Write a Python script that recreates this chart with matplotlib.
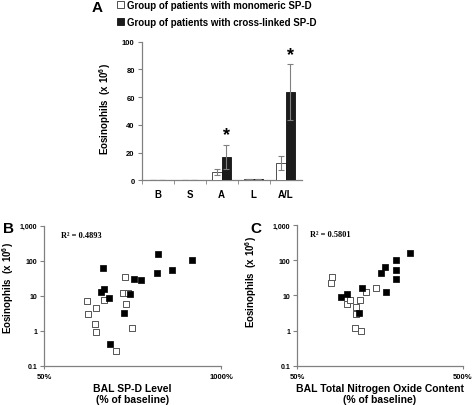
import matplotlib
matplotlib.use('Agg')
import matplotlib.pyplot as plt
from matplotlib.patches import Rectangle
from matplotlib.ticker import FixedLocator, NullLocator

plt.rcParams['font.family'] = ['Liberation Sans', 'DejaVu Sans']
plt.rcParams['font.weight'] = 'bold'
plt.rcParams['mathtext.default'] = 'regular'

# panel A data
categories = ['B', 'S', 'A', 'L', 'A/L']
mono_mean = [0.5, 0.5, 6.0, 1.2, 12.6]
mono_err = [0, 0, 2.0, 0, 5.0]
cross_mean = [0.5, 0.4, 16.8, 0.8, 63.6]
cross_err = [0, 0, 8.7, 0, 20.0]
star_cats = [2, 4]
star_y = [33, 91]

# panel B data (BAL SP-D level %, eosinophils x10^6)
b_cross_x = [136, 130, 137, 150, 152, 194, 214, 230, 258, 336, 346, 433, 615]
b_cross_y = [62, 13, 15.5, 8.8, 0.43, 3.2, 10.9, 30.6, 28.7, 43.5, 155, 53, 104]
b_mono_x = [103, 105, 120, 119, 120, 137, 170, 197, 190, 206, 201, 221]
b_mono_y = [7.0, 3.0, 4.4, 1.55, 0.94, 7.4, 0.26, 33.4, 12.2, 11.9, 5.9, 1.22]

# panel C data (BAL total NO content %, eosinophils x10^6)
c_cross_x = [92, 100, 123, 118, 160, 170, 172, 198, 197, 197, 241]
c_cross_y = [8.8, 10.9, 16.2, 3.15, 44, 62.5, 12.7, 103, 52.5, 29, 160]
c_mono_x = [81, 80, 99.5, 104, 113, 113, 120, 112, 122, 131, 150]
c_mono_y = [34, 22.4, 5.8, 7.4, 4.6, 3.0, 7.5, 1.2, 0.95, 12.7, 16.1]

W, H = 473, 406
fig = plt.figure(figsize=(W / 100, H / 100), dpi=100)
grey = '#808080'


def px_axes(left, top, right, bottom):
    return fig.add_axes([left / W, 1 - bottom / H, (right - left) / W, (bottom - top) / H])


def style(ax):
    for s in ['top', 'right']:
        ax.spines[s].set_visible(False)
    for s in ['left', 'bottom']:
        ax.spines[s].set_color(grey)
        ax.spines[s].set_linewidth(0.9)
    ax.tick_params(colors=grey, labelcolor='black', width=0.8, length=3)


# ---- A: bar chart ----
axA = px_axes(141.7, 42.7, 301.7, 181.2)
style(axA)
xs = list(range(len(categories)))
w = 0.29
axA.bar([x - w / 2 for x in xs], mono_mean, w, color='white', edgecolor='#333333', linewidth=0.6,
        yerr=mono_err, error_kw=dict(ecolor=grey, capsize=2, elinewidth=0.8, capthick=0.8), zorder=3)
axA.bar([x + w / 2 for x in xs], cross_mean, w, color='#1c1c1c', edgecolor='#111111', linewidth=0.6,
        yerr=cross_err, error_kw=dict(ecolor=grey, capsize=2, elinewidth=0.8, capthick=0.8), zorder=3)
for c, y in zip(star_cats, star_y):
    axA.text(c + w / 2, y, '*', ha='center', va='center', fontsize=13, fontweight='bold')
axA.set_xlim(-0.5, len(categories) - 0.5)
axA.set_ylim(0, 100)
axA.set_yticks([0, 20, 40, 60, 80, 100])
axA.set_xticks(xs)
axA.set_xticklabels(categories, fontsize=7)
axA.xaxis.set_minor_locator(FixedLocator([x + 0.5 for x in xs[:-1]] + [-0.5]))
axA.tick_params(axis='x', which='major', length=0, pad=6)
axA.tick_params(axis='x', which='minor', length=3, color=grey)
axA.tick_params(axis='y', labelsize=5.5, pad=2)
axA.set_ylabel('Eosinophils  (x 10$^6$)', fontsize=7, fontweight='bold')
axA.yaxis.set_label_coords(-0.18, 0.52)
fig.text(97 / W, 1 - 8 / H, 'A', fontsize=11, fontweight='bold', ha='center', va='center')

handles = [Rectangle((0, 0), 1, 1, facecolor='white', edgecolor='#333333', linewidth=0.6),
           Rectangle((0, 0), 1, 1, facecolor='#1c1c1c', edgecolor='#111111', linewidth=0.6)]
fig.legend(handles, ['Group of patients with monomeric SP-D', 'Group of patients with cross-linked SP-D'],
           loc='upper left', bbox_to_anchor=(117 / W, 1 - 1 / H), frameon=False, fontsize=7,
           handlelength=0.7, handleheight=0.7, handletextpad=0.3, labelspacing=0.75, borderpad=0,
           borderaxespad=0)


def scatter_panel(ax, mx, my, cx, cy, xmax, r2, r2pos, xlabel, ylab_pos):
    style(ax)
    ax.set_xscale('log')
    ax.set_yscale('log')
    ax.scatter(mx, my, marker='s', s=16, facecolor='white', edgecolor='#555555', linewidth=0.7, zorder=3)
    ax.scatter(cx, cy, marker='s', s=18, facecolor='black', edgecolor='black', linewidth=0.5, zorder=3)
    ax.set_xlim(50, xmax)
    ax.set_ylim(0.1, 1000)
    ax.yaxis.set_major_locator(FixedLocator([0.1, 1, 10, 100, 1000]))
    ax.set_yticklabels(['0.1', '1', '10', '100', '1,000'])
    ax.yaxis.set_minor_locator(NullLocator())
    ax.xaxis.set_major_locator(FixedLocator([50, xmax]))
    ax.set_xticklabels(['50%', '%d%%' % xmax])
    ax.xaxis.set_minor_locator(NullLocator())
    ax.tick_params(axis='y', labelsize=5, pad=2)
    ax.tick_params(axis='x', labelsize=5.5, pad=3, length=2)
    ax.set_xlabel(xlabel, fontsize=7.5, fontweight='bold', linespacing=1.15)
    ax.xaxis.set_label_coords(0.5, (366.7 - 384) / 140)
    ax.set_ylabel('Eosinophils  (x 10$^6$)', fontsize=7, fontweight='bold')
    ax.yaxis.set_label_coords(*ylab_pos)
    ax.text(r2pos[0], r2pos[1], r2, transform=ax.transAxes, fontsize=6, fontweight='bold',
            family=['Liberation Serif', 'DejaVu Serif'], ha='left', va='center')


# ---- B ----
axB = px_axes(44.3, 226.7, 221, 366.7)
scatter_panel(axB, b_mono_x, b_mono_y, b_cross_x, b_cross_y, 1000, 'R² = 0.4893',
              ((60.7 - 44.3) / 176.7, (366.7 - 235.7) / 140), 'BAL SP-D Level\n(% of baseline)',
              (-0.16, 0.56))
fig.text(8 / W, 1 - 229 / H, 'B', fontsize=11, fontweight='bold', ha='center', va='center')

# ---- C ----
axC = px_axes(297.3, 226, 462.7, 366.7)
scatter_panel(axC, c_mono_x, c_mono_y, c_cross_x, c_cross_y, 500, 'R² = 0.5801',
              ((310 - 297.3) / 165.4, (366.7 - 235) / 140.7),
              'BAL Total Nitrogen Oxide Content\n(% of baseline)', (-0.23, 0.6))
fig.text(256 / W, 1 - 229 / H, 'C', fontsize=11, fontweight='bold', ha='center', va='center')

fig.savefig('out.png', dpi=100)
